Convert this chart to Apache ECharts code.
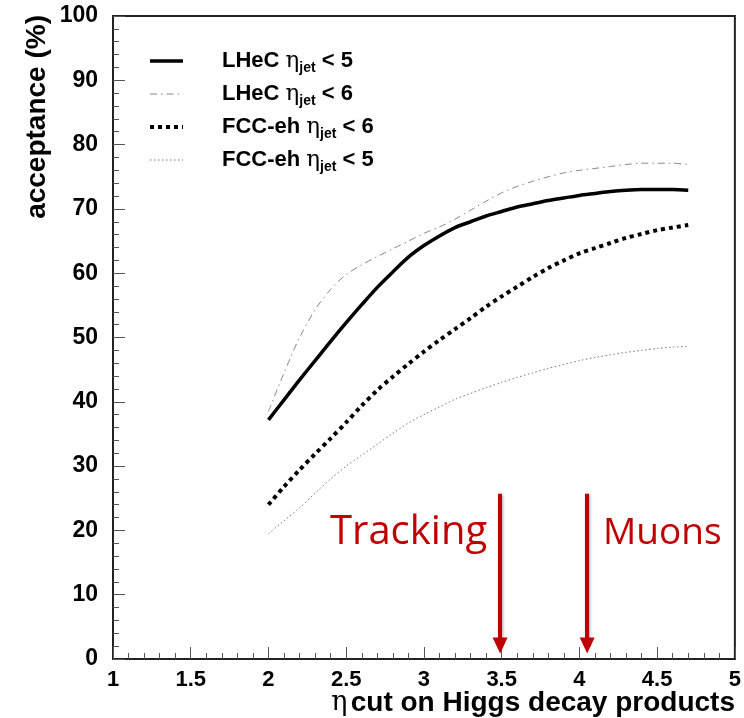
<!DOCTYPE html>
<html>
<head>
<meta charset="utf-8">
<script src="https://cdn.jsdelivr.net/npm/echarts@6/dist/echarts.min.js"></script>
<style>
html,body{margin:0;padding:0;background:#fff;}
#chart{width:744px;height:718px;}
</style>
</head>
<body>
<div id="chart"></div>
<script>
// ---- data ----
const etaCut = [2.0,2.1,2.2,2.3,2.4,2.5,2.6,2.7,2.8,2.9,3.0,3.1,3.2,3.3,3.4,3.5,3.6,3.7,3.8,3.9,4.0,4.1,4.2,4.3,4.4,4.5,4.6,4.7];
const lhecJet5 = [37.2,40.3,43.4,46.4,49.4,52.3,55.1,57.8,60.2,62.5,64.3,65.8,67.1,68.0,68.9,69.6,70.3,70.8,71.3,71.7,72.1,72.4,72.7,72.9,73.0,73.0,73.0,72.9];
const lhecJet6 = [38.5,44.5,50.0,54.3,57.5,59.8,61.3,62.6,63.8,65.0,66.2,67.2,68.4,69.8,71.2,72.5,73.5,74.3,75.0,75.6,76.0,76.3,76.6,76.9,77.1,77.1,77.1,76.9];
const fccJet6 = [24.0,26.8,29.4,31.9,34.3,36.8,39.4,41.8,43.9,45.9,47.8,49.6,51.3,53.0,54.8,56.4,57.9,59.4,60.8,62.0,63.1,63.9,64.7,65.5,66.1,66.7,67.1,67.5];
const fccJet5 = [19.5,21.5,23.5,25.8,28.0,30.0,31.7,33.4,35.1,36.7,38.0,39.2,40.4,41.3,42.2,43.0,43.8,44.5,45.2,45.8,46.4,46.9,47.3,47.7,48.0,48.3,48.5,48.6];
const seriesNames = ['LHeC ηjet < 5','LHeC ηjet < 6','FCC-eh ηjet < 6','FCC-eh ηjet < 5'];
const legendParts = [['LHeC','5'],['LHeC','6'],['FCC-eh','6'],['FCC-eh','5']];
const arrowLabels = ['Tracking','Muons'];
const arrowX = [3.49, 4.05];
const arrowTop = 25.7;
const arrowBottom = 2.1;
const xTicks = {min:1, max:5, interval:0.5};
const yTicks = {min:0, max:100, interval:10};
const xTitle = 'cut on Higgs decay products';
const yTitle = 'acceptance (%)';

const pair = v => etaCut.map((x,i)=>[x,v[i]]);
const RED = '#c00000';
const LABELF = '"Liberation Sans", Arial, Helvetica, sans-serif';
const SERIF = '"DejaVu Serif", "Liberation Serif", serif';
const HUMAN = '"Open Sans", "Noto Sans", sans-serif';

const chart = echarts.init(document.getElementById('chart'));
const option = {
  animation:false,
  backgroundColor:'#fff',
  grid:{left:113,right:9,top:16,bottom:59,show:true,borderColor:'#222',borderWidth:2,backgroundColor:'transparent'},
  xAxis:{
    type:'value',min:xTicks.min,max:xTicks.max,interval:xTicks.interval,
    axisLine:{show:true,lineStyle:{color:'#222',width:2}},
    axisTick:{show:true,inside:true,length:12,lineStyle:{color:'#555',width:1}},
    minorTick:{show:true,splitNumber:5,length:6,lineStyle:{color:'#555',width:1}},
    splitLine:{show:false},
    axisLabel:{margin:10,color:'#000',fontSize:22,fontWeight:'bold',fontFamily:LABELF,
      formatter:v=>String(v)}
  },
  yAxis:{
    type:'value',min:yTicks.min,max:yTicks.max,interval:yTicks.interval,
    axisLine:{show:true,lineStyle:{color:'#222',width:2}},
    axisTick:{show:true,inside:true,length:12,lineStyle:{color:'#555',width:1}},
    minorTick:{show:true,splitNumber:5,length:6,lineStyle:{color:'#555',width:1}},
    splitLine:{show:false},
    axisLabel:{margin:15,color:'#000',fontSize:23,fontWeight:'bold',fontFamily:LABELF}
  },
  legend:{
    show:true,orient:'vertical',left:143,top:42,itemWidth:33,itemHeight:12,itemGap:5,
    data:seriesNames,
    itemStyle:{opacity:0},
    lineStyle:{width:'inherit'},
    formatter:function(name){
      const i = seriesNames.indexOf(name);
      const p = legendParts[i];
      return '{b|'+p[0]+' }{e|η}{s|jet}{b| < '+p[1]+'}';
    },
    textStyle:{
      padding:[0,0,0,34],
      rich:{
        b:{fontSize:22,fontWeight:'bold',color:'#000',fontFamily:LABELF,lineHeight:24},
        e:{fontSize:23,color:'#000',fontFamily:SERIF,lineHeight:24},
        s:{fontSize:14,fontWeight:'bold',color:'#000',fontFamily:LABELF,padding:[14,0,0,0],lineHeight:14}
      }
    }
  },
  series:[
    {name:seriesNames[0],type:'line',data:pair(lhecJet5),symbol:'none',smooth:0.3,
     lineStyle:{color:'#000',width:3.5},itemStyle:{color:'#000'},z:5},
    {name:seriesNames[1],type:'line',data:pair(lhecJet6),symbol:'none',smooth:0.3,
     lineStyle:{color:'#888',width:1,type:[7,4,1.5,4]},itemStyle:{color:'#888'},z:4},
    {name:seriesNames[2],type:'line',data:pair(fccJet6),symbol:'none',smooth:0.3,
     lineStyle:{color:'#000',width:4,type:[4,4],cap:'butt'},itemStyle:{color:'#000'},z:4},
    {name:seriesNames[3],type:'line',data:pair(fccJet5),symbol:'none',smooth:0.3,
     lineStyle:{color:'#777',width:1,type:[1.5,2.5]},itemStyle:{color:'#777'},z:3},
    {name:'arrows',type:'line',data:[],symbol:'none',silent:true,
     markLine:{silent:true,symbol:['none','triangle'],symbolSize:[15,16],
       label:{show:false},
       lineStyle:{color:RED,width:4,type:'solid',shadowBlur:3,shadowColor:'rgba(0,0,0,0.35)',shadowOffsetX:1,shadowOffsetY:1},
       emphasis:{disabled:true},
       data:arrowX.map(x=>[{coord:[x,arrowTop]},{coord:[x,arrowBottom]}])
     }}
  ],
  graphic:[
    {type:'text',x:735,y:703,silent:true,
     style:{rich:{
       e:{fontSize:27,fontFamily:SERIF,fill:'#000'},
       t:{fontSize:28,fontWeight:'bold',fontFamily:LABELF,fill:'#000'}},
       text:'{e|η} {t|'+xTitle+'}',align:'right',verticalAlign:'middle'}},
    {type:'text',x:37,y:15,rotation:Math.PI/2,silent:true,
     style:{text:yTitle,fontSize:28,fontWeight:'bold',fontFamily:LABELF,fill:'#000',align:'right',verticalAlign:'middle'}},
    {type:'text',x:330,y:533,silent:true,
     style:{text:arrowLabels[0],fontSize:40,fontFamily:HUMAN,fill:RED,align:'left',verticalAlign:'middle'}},
    {type:'text',x:603,y:533,silent:true,
     style:{text:arrowLabels[1],fontSize:37,fontFamily:HUMAN,fill:RED,align:'left',verticalAlign:'middle'}}
  ]
};
chart.setOption(option);
</script>
</body>
</html>
